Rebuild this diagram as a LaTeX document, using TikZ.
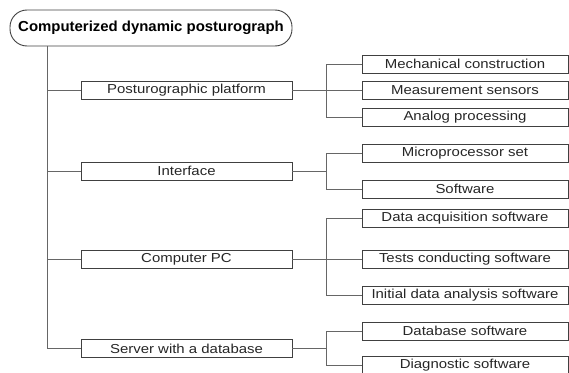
\documentclass[tikz,border=0pt]{standalone}
\usepackage{fontspec}
\setmainfont{Liberation Sans}[FakeStretch=1.15]
\newfontfamily\rootfont{Liberation Sans}[FakeStretch=1.03]
\begin{document}
\begin{tikzpicture}[x=1pt,y=-1pt,
  line width=0.9pt,
  conn/.style={draw=black!60},
  rootbox/.style={draw=black!75, rounded corners=17pt, minimum width=282pt,
    minimum height=36pt, inner sep=0pt, text=black,
    font=\rootfont\fontsize{14.5}{16}\selectfont\bfseries},
  lvlone/.style={draw=black!75, minimum width=211pt, minimum height=18pt,
    inner sep=0pt, text=black!85, font=\fontsize{13}{14}\selectfont},
  lvltwo/.style={draw=black!75, minimum width=206pt, minimum height=18pt,
    inner sep=0pt, text=black!85, font=\fontsize{13}{14}\selectfont}]
\useasboundingbox (0,0) rectangle (569,372);
\clip (0,0) rectangle (569,372);

% root
\node[rootbox] (root) at (151,28) {Computerized dynamic posturograph};
\coordinate (ttop) at (47,46);

% first level
\node[lvlone] (p1) at (186.5,90.5) {Posturographic platform};
\node[lvlone] (p2) at (186.5,171) {Interface};
\node[lvlone] (p3) at (186.5,259.5) {Computer PC};
\node[lvlone] (p4) at (186.5,348.5) {Server with a database};

% second level
\node[lvltwo] (a1) at (465,64) {Mechanical construction};
\node[lvltwo] (a2) at (465,90.5) {Measurement sensors};
\node[lvltwo] (a3) at (465,117.5) {Analog processing};
\node[lvltwo] (b1) at (465,153) {Microprocessor set};
\node[lvltwo] (b2) at (465,189) {Software};
\node[lvltwo] (c1) at (465,218) {Data acquisition software};
\node[lvltwo] (c2) at (465,259.5) {Tests conducting software};
\node[lvltwo] (c3) at (465,295.5) {Initial data analysis software};
\node[lvltwo] (d1) at (465,331) {Database software};
\node[lvltwo] (d2) at (465,365.5) {Diagnostic software};

% trunk
\draw[conn] (ttop) |- (p4.west);
\foreach \p in {p1,p2,p3}
  \draw[conn] (ttop |- \p.west) -- (\p.west);

% branches
\draw[conn] (p1.east) -- ++(34,0) coordinate (ba);
\draw[conn] (a1.west) -| (ba) |- (a3.west);
\draw[conn] (ba) -- (a2.west);

\draw[conn] (p2.east) -- ++(34,0) coordinate (bb);
\draw[conn] (b1.west) -| (bb) |- (b2.west);

\draw[conn] (p3.east) -- ++(34,0) coordinate (bc);
\draw[conn] (c1.west) -| (bc) |- (c3.west);
\draw[conn] (bc) -- (c2.west);

\draw[conn] (p4.east) -- ++(34,0) coordinate (bd);
\draw[conn] (d1.west) -| (bd) |- (d2.west);
\end{tikzpicture}
\end{document}
